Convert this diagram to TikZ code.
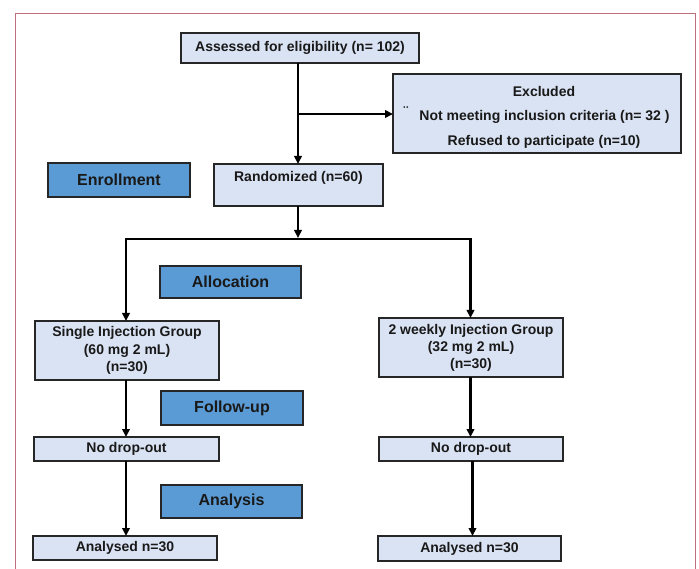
\documentclass[tikz,border=0pt]{standalone}
\usepackage{fontspec}
\setmainfont{Liberation Sans}
\usetikzlibrary{arrows.meta}
\definecolor{lightbox}{RGB}{218,227,243}
\definecolor{labelbox}{RGB}{91,155,213}
\definecolor{frame}{RGB}{190,110,125}
\definecolor{edge}{RGB}{38,38,38}
\begin{document}
\begin{tikzpicture}[x=1pt,y=-1pt,
  every node/.style={inner sep=0pt,outer sep=0pt,font=\bfseries\fontsize{14}{17}\selectfont,text=black!90},
  flowbox/.style={draw=edge,line width=1.1pt,fill=lightbox,align=center},
  stagebox/.style={draw=edge,line width=1.1pt,fill=labelbox,font=\bfseries\fontsize{16}{19}\selectfont},
  txt/.style={align=center},
  conn/.style={line width=2.2pt,black},
  arr/.style={conn,-{Triangle[length=8pt,width=7.5pt]}}
]
\useasboundingbox (0,0) rectangle (699,569);
\draw[frame,line width=1pt] (15,14) -- (695,14) -- (695,580) (15,14) -- (15,580);

% boxes
\node[flowbox,minimum width=238pt,minimum height=30pt] (assess) at (300,48) {Assessed for eligibility (n= 102)};
\node[flowbox,minimum width=288pt,minimum height=79pt] (excl) at (537,113.5) {};
\node[txt] (exclA) at (544,91.5) {Excluded};
\node[txt] (exclB) at (544.5,116.5) {Not meeting inclusion criteria (n= 32 )};
\node[txt] (exclDots) at (406,112) {¨};
\node[txt] (exclC) at (544,141.5) {Refused to participate (n=10)};

\node[flowbox,minimum width=169pt,minimum height=42pt] (rand) at (298.5,185) {};
\node[txt] (randT) at (298.5,178) {Randomized (n=60)};

\node[stagebox,minimum width=142pt,minimum height=34pt] (enroll) at (119,180) {Enrollment};
\node[stagebox,minimum width=141pt,minimum height=32pt] (alloc) at (230.5,282) {Allocation};
\node[stagebox,minimum width=142pt,minimum height=34pt] (follow) at (232,408) {Follow-up};
\node[stagebox,minimum width=141pt,minimum height=33pt] (analysis) at (231.5,501.5) {Analysis};

\node[flowbox,minimum width=184pt,minimum height=59pt,font=\bfseries\fontsize{14}{17.5}\selectfont] (single) at (127,350.5) {Single Injection Group\\(60 mg 2 mL)\\(n=30)};
\node[flowbox,minimum width=184pt,minimum height=59pt,font=\bfseries\fontsize{14}{17}\selectfont] (weekly) at (471,347.5) {2 weekly Injection Group\\(32 mg 2 mL)\\(n=30)};

\node[flowbox,minimum width=185pt,minimum height=24pt] (nd1) at (126.5,449) {No drop-out};
\node[flowbox,minimum width=184pt,minimum height=24pt] (nd2) at (471,449) {No drop-out};
\node[flowbox,minimum width=184pt,minimum height=24pt] (an1) at (125,548) {Analysed n=30};
\node[flowbox,minimum width=183pt,minimum height=25pt] (an2) at (469.5,548.5) {Analysed n=30};

% connectors
\coordinate (top) at (298,63);
\coordinate (br) at (298,114);
\coordinate (split) at (298,239);
\coordinate (L) at (126,239);
\coordinate (R) at (470.5,239);

\draw[arr] (top) -- (top |- rand.north);
\draw[arr] (br) -- (br -| excl.west);
\draw[arr] (split |- rand.south) -- ([yshift=1pt]split);
\draw[conn,line cap=rect] (L) -- (R);
\draw[arr] (L) -- (L |- single.north);
\draw[arr] (R) -- (R |- weekly.north);
\draw[arr] (single.south -| L) -- (L |- nd1.north);
\draw[arr] (nd1.south -| L) -- (L |- an1.north);
\draw[arr] (weekly.south -| R) -- (R |- nd2.north);
\draw[arr] ([xshift=2pt]nd2.south -| R) -- ([xshift=2pt]R |- an2.north);
\end{tikzpicture}
\end{document}
